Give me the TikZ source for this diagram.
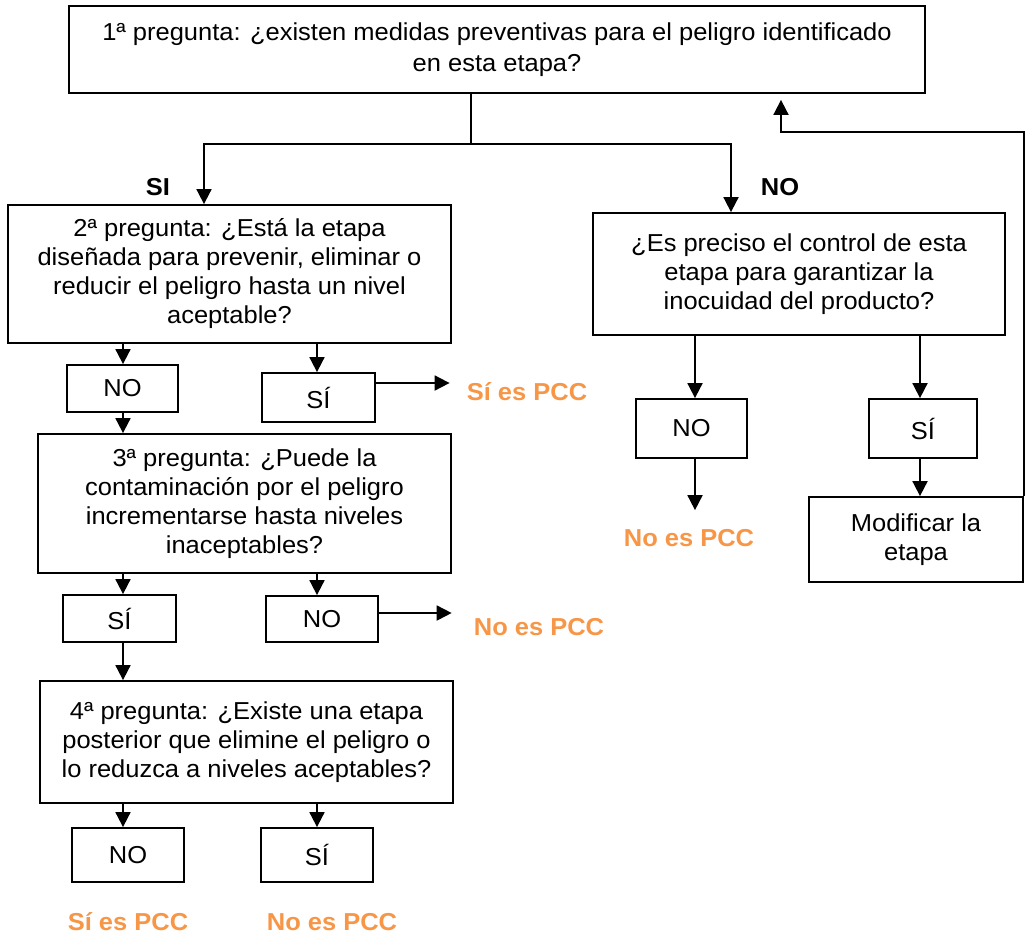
\documentclass[tikz,border=0pt]{standalone}
\usepackage{fontspec}
\setmainfont[FakeStretch=1.04]{Liberation Sans}
\usetikzlibrary{arrows.meta,calc}
\definecolor{pcc}{RGB}{247,150,70}
\begin{document}
\begin{tikzpicture}[x=1pt,y=-1pt,
  every node/.style={font=\fontsize{24.5}{29}\selectfont},
  box/.style={draw, line width=1.8pt, rectangle, inner sep=0pt, align=center},
  ans/.style={draw, line width=1.8pt, rectangle, inner sep=0pt},
  res/.style={inner sep=0pt, text=pcc, font=\fontsize{24.5}{29}\selectfont\bfseries},
  lbl/.style={inner sep=0pt, font=\fontsize{24.5}{29}\selectfont\bfseries},
  arr/.style={line width=1.8pt, -{Triangle[length=15pt,width=15pt]}},
  ln/.style={line width=1.8pt}]
\useasboundingbox (0,0) rectangle (1027,935);

% question boxes
\node[box, minimum width=856pt, minimum height=87pt, font=\fontsize{24.5}{30.5}\selectfont] (b1) at (497,49.5)
  {1ª pregunta: ¿existen medidas preventivas para el peligro identificado\\ en esta etapa?};
\node[box, minimum width=443pt, minimum height=138pt] (b2) at (229.5,274)
  {2ª pregunta: ¿Está la etapa\\ diseñada para prevenir, eliminar o\\ reducir el peligro hasta un nivel\\ aceptable?};
\node[box, minimum width=413pt, minimum height=139pt] (b3) at (244.5,503.5)
  {3ª pregunta: ¿Puede la\\ contaminación por el peligro\\ incrementarse hasta niveles\\ inaceptables?};
\node[box, minimum width=413pt, minimum height=122pt] (b4) at (246.5,742)
  {4ª pregunta: ¿Existe una etapa\\ posterior que elimine el peligro o\\ lo reduzca a niveles aceptables?};
\node[box, minimum width=412pt, minimum height=122pt] (b5) at (799,274)
  {¿Es preciso el control de esta\\ etapa para garantizar la\\ inocuidad del producto?};
\node[box, minimum width=214pt, minimum height=85pt] (mod) at (916,539.5)
  {Modificar la\\ etapa};

% answer boxes
\node[ans, minimum width=111pt, minimum height=47pt] (no1) at (122.5,388.5) {NO};
\node[ans, minimum width=113pt, minimum height=49pt] (si1) at (318.5,397.5) {SÍ};
\node[ans, minimum width=113pt, minimum height=47pt] (si2) at (119.5,618.5) {SÍ};
\node[ans, minimum width=112pt, minimum height=46pt] (no2) at (322,619) {NO};
\node[ans, minimum width=112pt, minimum height=54pt] (no3) at (128,855) {NO};
\node[ans, minimum width=112pt, minimum height=54pt] (si3) at (317,855) {SÍ};
\node[ans, minimum width=111pt, minimum height=59pt] (no4) at (691.5,428.5) {NO};
\node[ans, minimum width=108pt, minimum height=59pt] (si4) at (923,428.5) {SÍ};

% labels
\node[lbl] (lsi) at (158,187) {SI};
\node[lbl] (lno) at (780,187) {NO};
\node[res] (r1) at (527,392) {Sí es PCC};
\node[res] (r2) at (539,627) {No es PCC};
\node[res] (r3) at (689,538) {No es PCC};
\node[res] (r4) at (128,922) {Sí es PCC};
\node[res] (r5) at (332,922) {No es PCC};

% column coordinates
\coordinate (cl) at (123,0);
\coordinate (cr) at (317,0);
\coordinate (cl2) at (695,0);
\coordinate (cr2) at (920,0);
\coordinate (sl) at (204,0);
\coordinate (sr) at (731,0);
\coordinate (j) at (471,144);
\coordinate (fb) at (781,132);

% connectors
\draw[ln] (b1.south -| j) -- (j);
\draw[arr] (j) -| (b2.north -| sl);
\draw[arr] (j) -| (b5.north -| sr);

\draw[arr] (b2.south -| cl) -- (no1.north -| cl);
\draw[arr] (b2.south -| cr) -- (si1.north -| cr);
\draw[arr] (no1.south -| cl) -- (b3.north -| cl);
\draw[arr, shorten >=17pt] ([yshift=14.5pt]si1.east) -- ([yshift=14.5pt]si1.east -| r1.west);

\draw[arr] (b3.south -| cl) -- (si2.north -| cl);
\draw[arr] (b3.south -| cr) -- (no2.north -| cr);
\draw[arr] (si2.south -| cl) -- (b4.north -| cl);
\draw[arr, shorten >=22pt] ([yshift=6pt]no2.east) -- ([yshift=6pt]no2.east -| r2.west);

\draw[arr] (b4.south -| cl) -- (no3.north -| cl);
\draw[arr] (b4.south -| cr) -- (si3.north -| cr);

\draw[arr] (b5.south -| cl2) -- (no4.north -| cl2);
\draw[arr] (b5.south -| cr2) -- (si4.north -| cr2);
\draw[arr, shorten >=19pt] (no4.south -| cl2) -- (r3.north -| cl2);
\draw[arr] (si4.south -| cr2) -- (mod.north -| cr2);

\draw[arr, shorten >=6pt] (mod.north east) |- (fb) -- (fb |- b1.south);
\end{tikzpicture}
\end{document}
